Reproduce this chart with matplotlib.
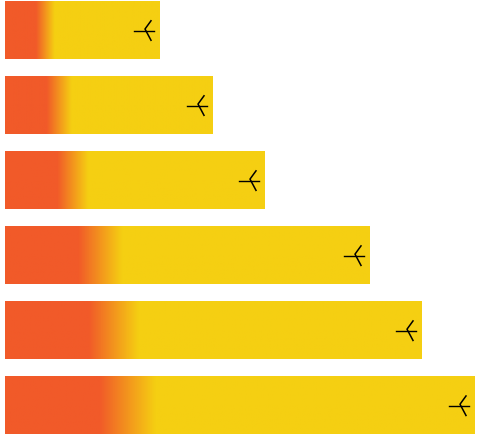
import numpy as np
import matplotlib.pyplot as plt
from matplotlib.colors import LinearSegmentedColormap

values = [155, 208, 260, 365, 417, 470]
positions = [0, 1, 2, 3, 4, 5]

cmap = LinearSegmentedColormap.from_list(
    "heat", [(0, "#f15a29"), (0.2, "#f15a29"), (0.32, "#f5cf12"), (1, "#f5cf12")])

fig = plt.figure(figsize=(5.0, 4.39), dpi=100)
ax = fig.add_axes([0, 0, 1, 1])
ax.set_xlim(-5, 495)
ax.set_ylim(5.43, -0.42)
ax.axis("off")

grad = np.linspace(0, 1, 256).reshape(1, -1)
h = 0.38
for p, v in zip(positions, values):
    ax.imshow(grad, cmap=cmap, aspect="auto", extent=[0, v, p + h, p - h], zorder=1)
    # little arrow near the right end
    ax.plot([v - 26, v - 6], [p, p], color="black", lw=1.0, zorder=3)
    ax.plot([v - 9, v - 15, v - 9], [p - 0.13, p - 0.02, p + 0.13], color="black", lw=1.1, zorder=3)

fig.savefig("out.png", dpi=100)
